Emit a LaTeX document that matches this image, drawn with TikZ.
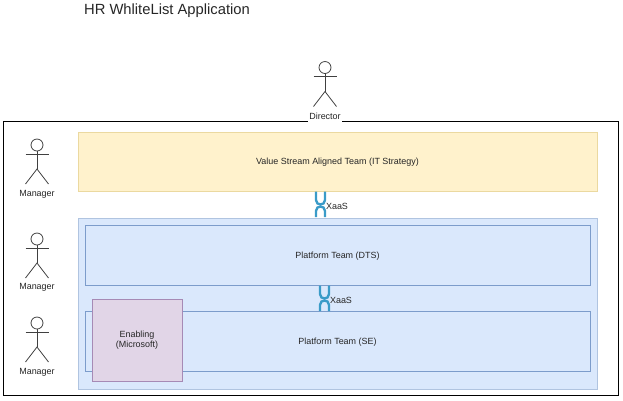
\documentclass[tikz,border=0pt]{standalone}
\usepackage{fontspec}
\setmainfont{Liberation Sans}
\tikzset{
  every path/.style={line width=0.45pt},
  teamtext/.style={font=\fontsize{5.1}{5.8}\selectfont, text=black!85},
  teambox/.style={draw, teamtext, inner sep=0pt, outer sep=0pt, text height=4.9pt, text depth=1.1pt},
  valuebox/.style={teambox, fill=yellowfill, draw=yellowline},
  groupbox/.style={teambox, fill=bluefill, draw=blueline!60},
  platformbox/.style={teambox, fill=bluefill, draw=blueline},
  enablingbox/.style={teambox, fill=purplefill, draw=purpleline},
  xaasline/.style={draw=linkblue, line width=1.35pt},
  pics/actor/.style={code={
    \draw[black!75] (0,-9) circle [radius=6];
    \draw[black!75] (0,-3) -- (0,15);
    \draw[black!75] (-11.5,0) -- (11.5,0);
    \draw[black!75] (-11.5,30) -- (0,15) -- (11.5,30);
  }},
  pics/xaas/.style={code={
    \draw[xaasline] (-4.5,-13.5) -- (-4.5,-5) .. controls (-4.5,1) and (4.5,1) .. (4.5,-5) -- (4.5,-13.5);
    \draw[xaasline] (-4.5,12) -- (-4.5,6) .. controls (-4.5,0) and (4.5,0) .. (4.5,6) -- (4.5,12);
  }}
}
\definecolor{yellowfill}{HTML}{FFF2CC}
\definecolor{yellowline}{HTML}{EBD9A0}
\definecolor{bluefill}{HTML}{DAE8FC}
\definecolor{blueline}{HTML}{7C9CCB}
\definecolor{purplefill}{HTML}{E1D5E7}
\definecolor{purpleline}{HTML}{A68AB5}
\definecolor{linkblue}{HTML}{3A9BC8}

\begin{document}
\begin{tikzpicture}[x=0.02cm,y=-0.02cm]
\useasboundingbox (0,0) rectangle (623,400);
\node (title) [font=\fontsize{8.4}{10}\selectfont, text=black!85] at (167,10.5) {HR WhliteList Application};

% outer frame
\node (frame) [draw, inner sep=0pt, minimum width=12.29cm, minimum height=5.47cm] at (310.75,258.25) {};

% teams
\node (valuestream) [valuebox, minimum width=10.38cm, minimum height=1.18cm] at (337.5,161.5) {Value Stream Aligned Team (IT Strategy)};
\node (platformgroup) [groupbox, minimum width=10.38cm, minimum height=3.42cm] at (337.5,303.5) {};
\node (dts) [platformbox, minimum width=10.1cm, minimum height=1.2cm] at (337.5,255) {Platform Team (DTS)};
\node (se) [platformbox, minimum width=10.1cm, minimum height=1.2cm] at (337.5,341) {Platform Team (SE)};
\node (enabling) [enablingbox, minimum width=1.79cm, minimum height=1.64cm] at (137.25,340) {};
\node (enablingtext) [teamtext, align=center] at (137,340.5) {Enabling\\(Microsoft)};

% links
\coordinate (xaasa) at (320.5,205);
\coordinate (xaasb) at (324.5,299);
\pic at (xaasa) {xaas};
\pic at (xaasb) {xaas};
\node (xaasalabel) [teamtext] at (337,206) {XaaS};
\node (xaasblabel) [teamtext] at (341,300) {XaaS};

% actors
\pic at (325,76.5) {actor};
\node (director) [teamtext, fill=white, inner sep=1pt] at (325,116.5) {Director};
\pic at (37,154) {actor};
\node (managera) [teamtext] at (37,194) {Manager};
\pic at (37,248) {actor};
\node (managerb) [teamtext] at (37,287.5) {Manager};
\pic at (37,332) {actor};
\node (managerc) [teamtext] at (37,372.5) {Manager};
\end{tikzpicture}
\end{document}
